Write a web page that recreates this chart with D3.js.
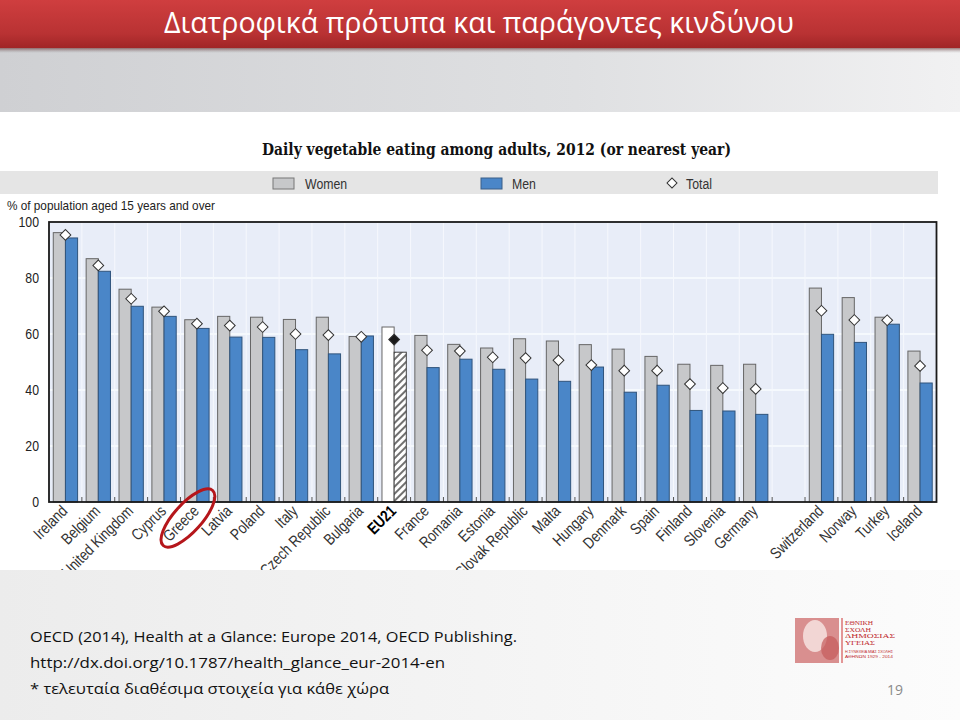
<!DOCTYPE html>
<html><head><meta charset="utf-8">
<script src="https://cdn.jsdelivr.net/npm/d3@7"></script>
<style>body{margin:0;background:#fff}svg{display:block}</style>
</head><body><svg id="c" width="960" height="720"></svg>
<script>
// ---------------- data ----------------
const categories = ["Ireland","Belgium","United Kingdom","Cyprus","Greece","Latvia","Poland","Italy","Czech Republic","Bulgaria","EU21","France","Romania","Estonia","Slovak Republic","Malta","Hungary","Denmark","Spain","Finland","Slovenia","Germany","Switzerland","Norway","Turkey","Iceland"];
const women = [96.2,86.9,76.0,69.6,65.1,66.3,66.0,65.2,66.0,59.1,62.5,59.5,56.3,55.0,58.3,57.5,56.2,54.6,52.0,49.2,48.8,49.2,76.4,73.0,66.0,53.9];
const men   = [94.3,82.4,69.9,66.3,62.0,58.9,58.8,54.4,52.9,59.3,53.5,48.0,51.0,47.4,43.9,43.1,48.2,39.2,41.7,32.7,32.5,31.3,59.9,57.0,63.5,42.5];
const total = [95.4,84.5,72.6,68.1,63.7,63.0,62.5,60.0,59.6,59.0,58.0,54.2,53.9,51.7,51.4,50.6,48.9,46.9,46.9,42.1,40.7,40.4,68.3,65.0,64.9,48.6];
const yTicks = [0,20,40,60,80,100];
const seriesNames = ["Women","Men"];
const gapAfter = "Germany";
const aggregate = "EU21";
const highlighted = "Greece";

const slideTitle = "Διατροφικά πρότυπα και παράγοντες κινδύνου";
const chartTitle = "Daily vegetable eating among adults, 2012 (or nearest year)";
const yLabel = "% of population aged 15 years and over";
const sourceLines = ["OECD (2014), Health at a Glance: Europe 2014, OECD Publishing.",
                     "http://dx.doi.org/10.1787/health_glance_eur-2014-en",
                     "* τελευταία διαθέσιμα στοιχεία για κάθε χώρα"];
const pageNumber = "19";
const logoLines = ["ΕΘΝΙΚΗ","ΣΧΟΛΗ","ΔΗΜΟΣΙΑΣ","ΥΓΕΙΑΣ"];
const logoSmall = ["Η ΣΥΝΕΧΕΙΑ ΜΙΑΣ ΣΧΟΛΗΣ","ΑΘΗΝΩΝ 1929 - 2014"];

// ---------------- setup ----------------
const svg = d3.select("#c");
const defs = svg.append("defs");
const narrow = "'Liberation Sans','Arial',sans-serif";
const squeeze = 0.82;
const calibri = "'Open Sans','Noto Sans',sans-serif";

function lg(id, x2, y2, stops){
  const g = defs.append("linearGradient").attr("id", id).attr("x1",0).attr("y1",0).attr("x2",x2).attr("y2",y2);
  stops.forEach(([o,c]) => g.append("stop").attr("offset", o).attr("stop-color", c));
}
lg("slideBg",1,0,[[0,"#ececec"],[1,"#fcfcfc"]]);
lg("redBar",0,1,[[0,"#cf3e3f"],[0.7,"#b93233"],[1,"#a02526"]]);
lg("grayBar",1,0,[[0,"#cfd0d3"],[0.6,"#dfe0e2"],[1,"#f1f1f2"]]);
lg("shadow",0,1,[[0,"rgba(90,20,20,0.55)"],[1,"rgba(120,120,120,0)"]]);
const hatch = defs.append("pattern").attr("id","hatch").attr("width",5).attr("height",5)
  .attr("patternUnits","userSpaceOnUse").attr("patternTransform","rotate(45)");
hatch.append("rect").attr("width",5).attr("height",5).attr("fill","#fff");
hatch.append("line").attr("x1",1).attr("y1",0).attr("x2",1).attr("y2",5).attr("stroke","#333").attr("stroke-width",1.4);
defs.append("clipPath").attr("id","imgClip").append("rect").attr("x",0).attr("y",112).attr("width",960).attr("height",458);

// slide background
svg.append("rect").attr("width",960).attr("height",720).attr("fill","url(#slideBg)");
svg.append("rect").attr("x",0).attr("y",48).attr("width",960).attr("height",64).attr("fill","url(#grayBar)");
svg.append("rect").attr("x",0).attr("y",48).attr("width",960).attr("height",5).attr("fill","url(#shadow)");
svg.append("rect").attr("x",0).attr("y",0).attr("width",960).attr("height",48).attr("fill","url(#redBar)");
svg.append("text").attr("x",479).attr("y",33).attr("text-anchor","middle")
  .attr("font-family",calibri).attr("font-size",29).attr("fill","#fff")
  .attr("textLength",630).attr("lengthAdjust","spacingAndGlyphs").text(slideTitle);

// chart image area
svg.append("rect").attr("x",0).attr("y",112).attr("width",960).attr("height",458).attr("fill","#fff");
const img = svg.append("g").attr("clip-path","url(#imgClip)");

img.append("text").attr("x",262).attr("y",155).attr("font-family","'DejaVu Serif','Liberation Serif',serif")
  .attr("font-weight","bold").attr("font-size",16).attr("fill","#111")
  .attr("textLength",469).attr("lengthAdjust","spacingAndGlyphs").text(chartTitle);

// legend
img.append("rect").attr("x",0).attr("y",171).attr("width",938).attr("height",23).attr("fill","#e5e5e5");
const legendItems = [
  {name:"Women", sx:273, tx:305},
  {name:"Men", sx:481, tx:512},
  {name:"Total", sx:666, tx:686}
];
legendItems.forEach(it => {
  if (it.name === "Total") {
    img.append("path").attr("d", d3.symbol(d3.symbolSquare, 50)())
      .attr("transform",`translate(${it.sx+6},183) rotate(45)`)
      .attr("fill","#fff").attr("stroke","#333").attr("stroke-width",1);
  } else {
    img.append("rect").attr("x",it.sx).attr("y",178).attr("width",21).attr("height",11)
      .attr("fill", it.name==="Women" ? "#c7c8ca" : "#4a86c8")
      .attr("stroke", it.name==="Women" ? "#777" : "#3a5f88");
  }
  img.append("text").attr("transform",`translate(${it.tx},189) scale(${squeeze},1)`)
    .attr("font-family",narrow).attr("font-size",15).attr("fill","#333").text(it.name);
});

// scales
const domain = [];
categories.forEach(c => { domain.push(c); if (c === gapAfter) domain.push("__gap__"); });
const x = d3.scaleBand().domain(domain).range([49, 936.5]).padding(0);
const bw = x.bandwidth();
const x1 = d3.scaleBand().domain(seriesNames).range([bw*0.13, bw*0.87]).padding(0);
const y = d3.scaleLinear().domain([0,100]).range([502,222]);

// plot background + grid
img.append("rect").attr("x",x.range()[0]).attr("y",y(100)).attr("width",x.range()[1]-x.range()[0])
  .attr("height",y(0)-y(100)).attr("fill","#e8edf8");
img.append("g").selectAll("line").data(yTicks.slice(1,-1)).join("line")
  .attr("x1",x.range()[0]).attr("x2",x.range()[1]).attr("y1",d=>y(d)).attr("y2",d=>y(d))
  .attr("stroke","#fafcff").attr("stroke-width",1.5);
img.append("g").selectAll("line").data(domain.slice(1)).join("line")
  .attr("x1",d=>x(d)).attr("x2",d=>x(d)).attr("y1",y(100)).attr("y2",y(0))
  .attr("stroke","#f6f8fd").attr("stroke-width",1);

// y label and ticks
img.append("text").attr("x",7).attr("y",210).attr("font-family",narrow).attr("font-size",13)
  .attr("fill","#222").attr("textLength",208).attr("lengthAdjust","spacingAndGlyphs").text(yLabel);
img.append("g").selectAll("text").data(yTicks).join("text")
  .attr("transform",d=>`translate(39,${y(d)+5}) scale(${squeeze},1)`).attr("text-anchor","end")
  .attr("font-family",narrow).attr("font-size",15).attr("fill","#222").text(d=>d);

// bars
const rows = categories.map((c,i)=>({c, women:women[i], men:men[i], total:total[i]}));
const groups = img.append("g").selectAll("g").data(rows).join("g")
  .attr("transform", d=>`translate(${x(d.c)},0)`);
groups.append("rect").attr("x",x1("Women")).attr("width",x1.bandwidth())
  .attr("y",d=>y(d.women)).attr("height",d=>y(0)-y(d.women))
  .attr("fill",d=>d.c===aggregate?"#ffffff":"#c7c8ca").attr("stroke","#666").attr("stroke-width",1);
groups.append("rect").attr("x",x1("Men")).attr("width",x1.bandwidth())
  .attr("y",d=>y(d.men)).attr("height",d=>y(0)-y(d.men))
  .attr("fill",d=>d.c===aggregate?"url(#hatch)":"#4a86c8")
  .attr("stroke",d=>d.c===aggregate?"#444":"#30547c").attr("stroke-width",1);
groups.append("path").attr("d", d3.symbol(d3.symbolSquare, 58)())
  .attr("transform", d=>`translate(${x1("Men")},${y(d.total)}) rotate(45)`)
  .attr("fill",d=>d.c===aggregate?"#1a1a1a":"#fff").attr("stroke","#333").attr("stroke-width",1);

// bottom ticks
img.append("g").selectAll("line").data(domain.slice(1)).join("line")
  .attr("x1",d=>x(d)).attr("x2",d=>x(d)).attr("y1",y(0)).attr("y2",y(0)-5)
  .attr("stroke","#555").attr("stroke-width",1);

// frame
img.append("rect").attr("x",x.range()[0]).attr("y",y(100)).attr("width",x.range()[1]-x.range()[0])
  .attr("height",y(0)-y(100)).attr("fill","none").attr("stroke","#1a1a1a").attr("stroke-width",1.8);

// x labels
img.append("g").selectAll("text").data(categories).join("text")
  .attr("transform", d=>`translate(${x(d)+bw/2+3},512) rotate(-45) scale(${squeeze},1)`)
  .attr("text-anchor","end").attr("font-family",narrow).attr("font-size",16)
  .attr("font-weight",d=>d===aggregate?"bold":"normal")
  .attr("fill",d=>d===aggregate?"#000":"#333").text(d=>d);

// highlight ellipse around Greece
svg.append("ellipse").attr("cx",0).attr("cy",0).attr("rx",37).attr("ry",14)
  .attr("transform",`translate(${x(highlighted)+bw/2-9},518) rotate(-48)`)
  .attr("fill","none").attr("stroke","#b5161b").attr("stroke-width",3);

// source text
svg.append("g").selectAll("text").data(sourceLines).join("text")
  .attr("x",30).attr("y",(d,i)=>642+i*26)
  .attr("font-family",calibri).attr("font-size",15).attr("fill","#111")
  .attr("textLength",(d,i)=>[487,415,359][i]).attr("lengthAdjust","spacingAndGlyphs").text(d=>d);
svg.append("text").attr("x",895).attr("y",695).attr("text-anchor","middle")
  .attr("font-family",calibri).attr("font-size",14).attr("fill","#8a8a8a").text(pageNumber);

// logo
const logo = svg.append("g");
logo.append("rect").attr("x",795).attr("y",618).attr("width",44).attr("height",45).attr("fill","#d98f8f");
logo.append("ellipse").attr("cx",815).attr("cy",636).attr("rx",12).attr("ry",16).attr("fill","#f2d6d4");
logo.append("ellipse").attr("cx",830).attr("cy",648).attr("rx",9).attr("ry",12).attr("fill","#c45a5a").attr("opacity",0.7);
logo.append("line").attr("x1",842).attr("x2",842).attr("y1",618).attr("y2",663).attr("stroke","#c33").attr("stroke-width",1);
logo.selectAll("text.l").data(logoLines).join("text").attr("class","l")
  .attr("x",845).attr("y",(d,i)=>625+i*6.6).attr("font-family","'Liberation Serif',serif").attr("font-size",6.4)
  .attr("fill","#c0282c").attr("textLength",(d,i)=>[28,26,50,30][i]).attr("lengthAdjust","spacingAndGlyphs").text(d=>d);
logo.selectAll("text.s").data(logoSmall).join("text").attr("class","s")
  .attr("x",845).attr("y",(d,i)=>653+i*5).attr("font-family","'Liberation Sans',sans-serif").attr("font-size",3.6)
  .attr("fill","#c0282c").attr("textLength",48).attr("lengthAdjust","spacingAndGlyphs").text(d=>d);
</script></body></html>
